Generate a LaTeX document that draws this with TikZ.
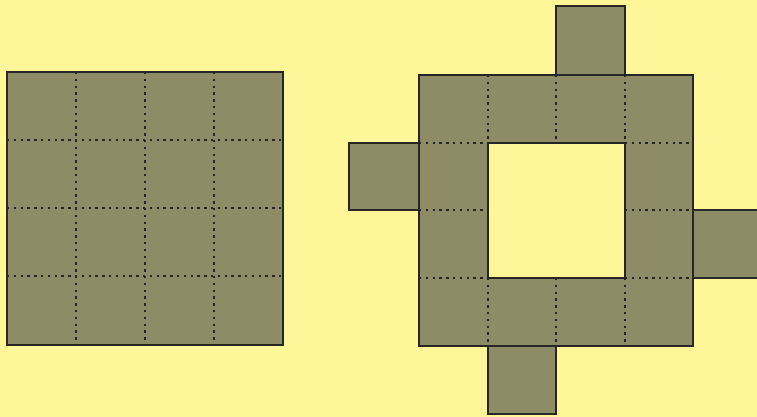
\documentclass[tikz,border=0pt]{standalone}
\usepackage{tikz}
\definecolor{paper}{HTML}{FFF69A}
\definecolor{tilefill}{HTML}{8E8C66}
\begin{document}
\begin{tikzpicture}[x=0.5pt,y=-0.5pt,
  tile/.style={fill=tilefill,draw=black!85,line width=1pt},
  gridline/.style={black!85,line width=1.2pt,dash pattern=on 1.2pt off 2.2pt}]
  \fill[paper] (0,0) rectangle (757,417);
  \useasboundingbox (0,0) rectangle (757,417);
  \clip (0,0) rectangle (757,417);
  % full square
  \draw[tile] (7,72) rectangle (283,345);
  \foreach \x in {76,145,214} {
    \draw[gridline] (\x,72) -- (\x,345);
  }
  \foreach \y in {140,208,276} {
    \draw[gridline] (7,\y) -- (283,\y);
  }
  % ring with four tabs
  \draw[tile] (556,6) rectangle (625,75);
  \draw[tile] (349,143) rectangle (419,210);
  \draw[tile] (693,210) rectangle (770,278);
  \draw[tile] (488,346) rectangle (556,414);
  \draw[tile,even odd rule] (419,75) rectangle (693,346) (488,143) rectangle (625,278);
  \foreach \x in {488,556,625} {
    \draw[gridline] (\x,75) -- (\x,143);
    \draw[gridline] (\x,278) -- (\x,346);
  }
  \foreach \y in {143,210,278} {
    \draw[gridline] (419,\y) -- (488,\y);
    \draw[gridline] (625,\y) -- (693,\y);
  }
\end{tikzpicture}
\end{document}
